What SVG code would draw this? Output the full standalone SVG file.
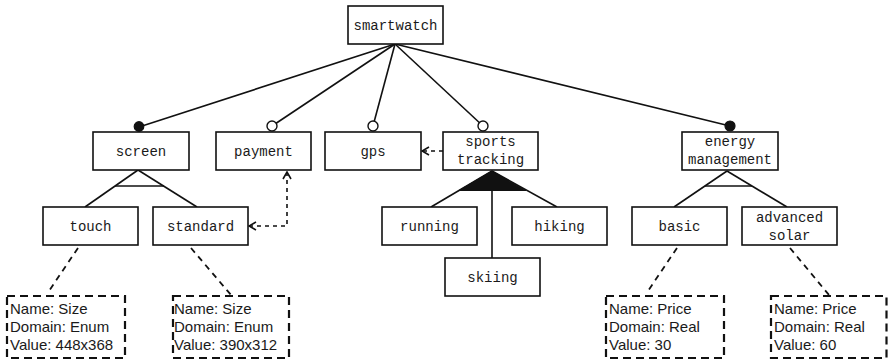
<svg xmlns="http://www.w3.org/2000/svg" width="888" height="362" viewBox="0 0 888 362">
  <style>
    .box { fill: #fff; stroke: #111; stroke-width: 1.6; }
    .lbl { font-family: "Liberation Mono", "DejaVu Sans Mono", monospace; font-size: 14px; fill: #1a1a1a; text-anchor: middle; }
    .edge { fill: none; stroke: #111; stroke-width: 1.6; }
    .dep { fill: none; stroke: #111; stroke-width: 1.6; stroke-dasharray: 4 4; }
    .note-link { fill: none; stroke: #111; stroke-width: 1.8; stroke-dasharray: 6 5; }
    .attr { fill: #fff; stroke: #111; stroke-width: 2.2; stroke-dasharray: 8 5; }
    .attr-text { font-family: "Liberation Sans", Arial, sans-serif; font-size: 15px; fill: #1a1a1a; }
    .mand { fill: #111; stroke: #111; stroke-width: 1.2; }
    .opt { fill: #fff; stroke: #111; stroke-width: 1.4; }
  </style>
  <defs>
    <marker id="chev" viewBox="0 0 10 10" refX="9" refY="5" markerWidth="10" markerHeight="10" markerUnits="userSpaceOnUse" orient="auto-start-reverse">
      <path d="M2,1 L9,5 L2,9" fill="none" stroke="#111" stroke-width="1.6"/>
    </marker>
  </defs>

  <!-- connectors -->
  <g id="connectors">
    <!-- root to children -->
    <line class="edge" x1="395" y1="44" x2="139" y2="127"/>
    <line class="edge" x1="395" y1="44" x2="272" y2="126"/>
    <line class="edge" x1="395" y1="44" x2="373" y2="126"/>
    <line class="edge" x1="395" y1="44" x2="483" y2="126"/>
    <line class="edge" x1="395" y1="44" x2="730" y2="126"/>
    <!-- feature kind markers -->
    <circle class="mand" cx="139" cy="126.5" r="4.8"/>
    <circle class="opt" cx="272" cy="126" r="5"/>
    <circle class="opt" cx="373" cy="126" r="5"/>
    <circle class="opt" cx="483" cy="126" r="5"/>
    <circle class="mand" cx="730" cy="126" r="5"/>

    <!-- screen alternative group -->
    <line class="edge" x1="138" y1="170" x2="85" y2="207"/>
    <line class="edge" x1="138" y1="170" x2="197" y2="207"/>
    <line class="edge" x1="115" y1="186" x2="164" y2="186"/>

    <!-- sports tracking or group -->
    <line class="edge" x1="492" y1="171" x2="431" y2="207"/>
    <line class="edge" x1="492" y1="171" x2="557" y2="207"/>
    <line class="edge" x1="492" y1="171" x2="492" y2="258"/>
    <polygon points="492,171 459,190.5 526,190.5" fill="#111" stroke="#111" stroke-width="1"/>

    <!-- energy management alternative group -->
    <line class="edge" x1="727" y1="171" x2="674" y2="207"/>
    <line class="edge" x1="727" y1="171" x2="787" y2="207"/>
    <line class="edge" x1="705" y1="186" x2="752" y2="186"/>

    <!-- cross-tree dependencies -->
    <path class="dep" d="M249,226 H287 V172" marker-start="url(#chev)" marker-end="url(#chev)"/>
    <path class="dep" d="M443,151 H422" marker-end="url(#chev)"/>

    <!-- attribute links -->
    <line class="note-link" x1="78" y1="248" x2="49" y2="291"/>
    <line class="note-link" x1="191" y1="248" x2="231" y2="295"/>
    <line class="note-link" x1="677" y1="248" x2="648" y2="291"/>
    <line class="note-link" x1="790" y1="248" x2="829" y2="295"/>
  </g>

  <!-- feature nodes -->
  <g id="smartwatch">
    <rect class="box" x="348" y="6" width="95" height="38"/>
    <text class="lbl" x="395.5" y="30">smartwatch</text>
  </g>
  <g id="screen">
    <rect class="box" x="93" y="132" width="96" height="38"/>
    <text class="lbl" x="141" y="156">screen</text>
  </g>
  <g id="payment">
    <rect class="box" x="216" y="132" width="95" height="38"/>
    <text class="lbl" x="263.5" y="156">payment</text>
  </g>
  <g id="gps">
    <rect class="box" x="325" y="132" width="96" height="38"/>
    <text class="lbl" x="373" y="156">gps</text>
  </g>
  <g id="sports-tracking">
    <rect class="box" x="443" y="132" width="95" height="38"/>
    <text class="lbl" x="490.5" y="146">sports</text>
    <text class="lbl" x="490.5" y="163.5">tracking</text>
  </g>
  <g id="energy-management">
    <rect class="box" x="682" y="132" width="96" height="38"/>
    <text class="lbl" x="730" y="146">energy</text>
    <text class="lbl" x="730" y="163.5">management</text>
  </g>
  <g id="touch">
    <rect class="box" x="43" y="207" width="95" height="38"/>
    <text class="lbl" x="90.5" y="231">touch</text>
  </g>
  <g id="standard">
    <rect class="box" x="153" y="207" width="95" height="38"/>
    <text class="lbl" x="200.5" y="231">standard</text>
  </g>
  <g id="running">
    <rect class="box" x="382" y="207" width="95" height="38"/>
    <text class="lbl" x="429.5" y="231">running</text>
  </g>
  <g id="hiking">
    <rect class="box" x="512" y="207" width="95" height="38"/>
    <text class="lbl" x="559.5" y="231">hiking</text>
  </g>
  <g id="skiing">
    <rect class="box" x="445" y="258" width="95" height="38"/>
    <text class="lbl" x="492.5" y="282">skiing</text>
  </g>
  <g id="basic">
    <rect class="box" x="632" y="207" width="95" height="38"/>
    <text class="lbl" x="679.5" y="231">basic</text>
  </g>
  <g id="advanced-solar">
    <rect class="box" x="742" y="207" width="95" height="38"/>
    <text class="lbl" x="789.5" y="221.5">advanced</text>
    <text class="lbl" x="789.5" y="239.5">solar</text>
  </g>

  <!-- attribute notes -->
  <g id="touch-size">
    <rect class="attr" x="7" y="296" width="118" height="62"/>
    <text class="attr-text" x="10" y="314">Name: Size</text>
    <text class="attr-text" x="10" y="332">Domain: Enum</text>
    <text class="attr-text" x="10" y="350">Value: 448x368</text>
  </g>
  <g id="standard-size">
    <rect class="attr" x="173" y="296" width="116" height="62"/>
    <text class="attr-text" x="174" y="314">Name: Size</text>
    <text class="attr-text" x="174" y="332">Domain: Enum</text>
    <text class="attr-text" x="174" y="350">Value: 390x312</text>
  </g>
  <g id="basic-price">
    <rect class="attr" x="606" y="296" width="118" height="62"/>
    <text class="attr-text" x="609" y="314">Name: Price</text>
    <text class="attr-text" x="609" y="332">Domain: Real</text>
    <text class="attr-text" x="609" y="350">Value: 30</text>
  </g>
  <g id="solar-price">
    <rect class="attr" x="771" y="296" width="115.5" height="62"/>
    <text class="attr-text" x="774" y="314">Name: Price</text>
    <text class="attr-text" x="774" y="332">Domain: Real</text>
    <text class="attr-text" x="774" y="350">Value: 60</text>
  </g>
</svg>
